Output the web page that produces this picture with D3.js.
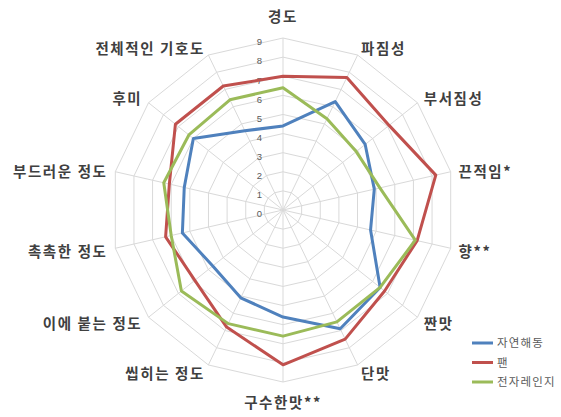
<!DOCTYPE html>
<html>
<head>
<meta charset="utf-8">
<script src="https://cdn.jsdelivr.net/npm/d3@7"></script>
<style>
  html, body { margin: 0; padding: 0; background: #fff; }
  svg { display: block; }
</style>
</head>
<body>
<svg id="chart" width="561" height="417"></svg>
<script>
// Sensory attributes (spokes, clockwise from top)
const categories = ["경도", "파짐성", "부서짐성", "끈적임*", "향**", "짠맛", "단맛", "구수한맛**",
  "씹히는 정도", "이에 붙는 정도", "촉촉한 정도", "부드러운 정도", "후미", "전체적인 기호도"];

// Mean scores per thawing method
const seriesNames = ["자연해동", "팬", "전자레인지"];
const natural   = [4.4, 6.3, 5.5, 4.9, 4.7, 6.5, 6.9, 5.6, 5.1, 4.7, 5.4, 5.3, 6.0, 4.6];
const pan       = [7.0, 7.7, 7.1, 8.2, 7.2, 6.8, 7.5, 8.1, 6.8, 5.9, 6.3, 6.1, 7.2, 7.2];
const microwave = [6.4, 5.3, 4.9, 5.2, 7.1, 6.5, 6.5, 6.6, 6.6, 6.8, 6.0, 6.4, 6.3, 6.4];

const tickValues = [0, 1, 2, 3, 4, 5, 6, 7, 8, 9];
const colors = ["#4F81BD", "#C0504D", "#9BBB59"];

const svg = d3.select("#chart");
const cx = 283, cy = 210;
const r = d3.scaleLinear().domain([0, 9]).range([0, 172]);
const angle = d3.scaleLinear().domain([0, categories.length]).range([0, 2 * Math.PI]);

const g = svg.append("g").attr("transform", `translate(${cx},${cy})`);

const pt = (i, v) => [Math.sin(angle(i)) * r(v), -Math.cos(angle(i)) * r(v)];

// Polygonal grid rings
const ringLine = d3.lineRadial()
  .angle((d, i) => angle(i))
  .radius(d => r(d))
  .curve(d3.curveLinearClosed);

tickValues.filter(t => t > 0).forEach(t => {
  g.append("path")
    .attr("d", ringLine(categories.map(() => t)))
    .attr("fill", "none")
    .attr("stroke", "#d9d9d9")
    .attr("stroke-width", 1);
});

// Spokes
categories.forEach((c, i) => {
  const [x, y] = pt(i, 9);
  g.append("line")
    .attr("x1", 0).attr("y1", 0).attr("x2", x).attr("y2", y)
    .attr("stroke", "#d9d9d9").attr("stroke-width", 1);
});

// Value ticks along the vertical spoke
g.selectAll("text.tick").data(tickValues).join("text")
  .attr("class", "tick")
  .attr("x", -21)
  .attr("y", d => -r(d) + 4)
  .attr("dy", "0.35em")
  .attr("text-anchor", "end")
  .attr("font-family", "Liberation Sans, Arial, sans-serif")
  .attr("font-size", 9.5)
  .attr("fill", "#595959")
  .text(d => d);

// Series polygons
const seriesLine = d3.lineRadial()
  .angle((d, i) => angle(i))
  .radius(d => r(d))
  .curve(d3.curveLinearClosed);

[natural, pan, microwave].forEach((vals, k) => {
  g.append("path")
    .attr("d", seriesLine(vals))
    .attr("fill", "none")
    .attr("stroke", colors[k])
    .attr("stroke-width", 3)
    .attr("stroke-linejoin", "round");
});

// Category labels
categories.forEach((c, i) => {
  const a = angle(i);
  const s = Math.sin(a), co = Math.cos(a);
  let [x, y] = pt(i, 9);
  const d = 8;
  x += s * d;
  y += -co * d;
  let anchor = "middle";
  if (s > 0.1) anchor = "start";
  else if (s < -0.1) anchor = "end";
  let yc = y + 1.5;
  if (Math.abs(s) < 0.1) yc = co > 0 ? -193 : 193;
  g.append("text")
    .attr("x", x)
    .attr("y", yc)
    .attr("dy", "0.35em")
    .attr("text-anchor", anchor)
    .attr("font-family", "Noto Sans CJK KR, sans-serif")
    .attr("font-weight", "bold")
    .attr("font-size", 14.5)
    .attr("letter-spacing", 1.6)
    .attr("fill", "#404040")
    .text(c);
});

// Legend
const legend = svg.append("g").attr("transform", "translate(472,343)");
seriesNames.forEach((n, k) => {
  const row = legend.append("g").attr("transform", `translate(0,${k * 19.5})`);
  row.append("line").attr("x1", 0).attr("x2", 21).attr("y1", 0).attr("y2", 0)
    .attr("stroke", colors[k]).attr("stroke-width", 3);
  row.append("text").attr("x", 25).attr("y", 0).attr("dy", "0.35em")
    .attr("font-family", "Noto Sans CJK KR, sans-serif")
    .attr("font-size", 11.5)
    .attr("letter-spacing", 1.2)
    .attr("fill", "#595959")
    .text(n);
});
</script>
</body>
</html>
